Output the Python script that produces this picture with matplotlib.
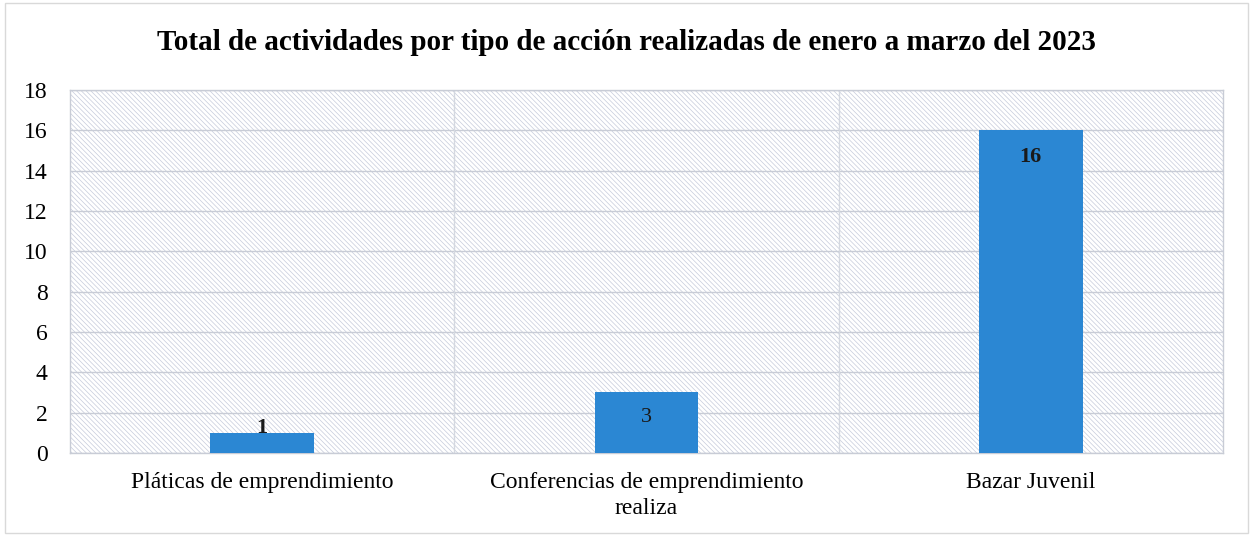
import matplotlib
matplotlib.use("Agg")
import matplotlib.pyplot as plt
from matplotlib.patches import Rectangle

categories = ["Pláticas de emprendimiento", "Conferencias de emprendimiento\nrealiza", "Bazar Juvenil"]
values = [1, 3, 16]
label_y = [1.25, 1.75, 14.7]
label_bold = [True, False, True]
title = "Total de actividades por tipo de acción realizadas de enero a marzo del 2023"

plt.rcParams['font.family'] = ['Liberation Serif', 'DejaVu Serif']
plt.rcParams['hatch.linewidth'] = 0.5

fig = plt.figure(figsize=(12.53, 5.36), dpi=100)
ax = fig.add_axes([0.0559, 0.1549, 0.9201, 0.6771])

# figure border
fig.patches.append(Rectangle((0.004, 0.006), 0.992, 0.988, transform=fig.transFigure,
                             fill=False, edgecolor='#d9d9d9', linewidth=1.0))

ax.set_facecolor('white')
ax.add_patch(Rectangle((0, 0), 1, 1, transform=ax.transAxes, facecolor='white',
                       edgecolor='#c6cbdb', linewidth=0, hatch='\\' * 7, zorder=0))

x = list(range(len(categories)))
ax.bar(x, values, width=0.27, color='#2b87d3', zorder=3)

for xi, yv, v, b in zip(x, label_y, values, label_bold):
    ax.text(xi, yv, str(v), ha='center', va='center', fontsize=16,
            fontweight='bold' if b else 'normal', color='#1a1a1a', zorder=4)

ax.set_xlim(-0.5, len(categories) - 0.5)
ax.set_ylim(0, 18)
ax.set_yticks(range(0, 19, 2))
ax.set_xticks(x)
ax.set_xticklabels(categories, fontsize=17, linespacing=1.3)
ax.tick_params(axis='y', labelsize=17, length=0, pad=16)
ax.tick_params(axis='x', length=0, pad=14)

ax.grid(axis='y', color='#c8ccd6', linewidth=1.0, zorder=1)
for b in [0.5, 1.5]:
    ax.axvline(b, color='#d4d8e0', linewidth=1.0, zorder=1)
for s in ax.spines.values():
    s.set_color('#c8ccd6')
    s.set_linewidth(1.0)
ax.set_axisbelow(True)

fig.text(0.5, 0.921, title, ha='center', va='center', fontsize=21, fontweight='bold')

fig.savefig('out.png', dpi=100)
